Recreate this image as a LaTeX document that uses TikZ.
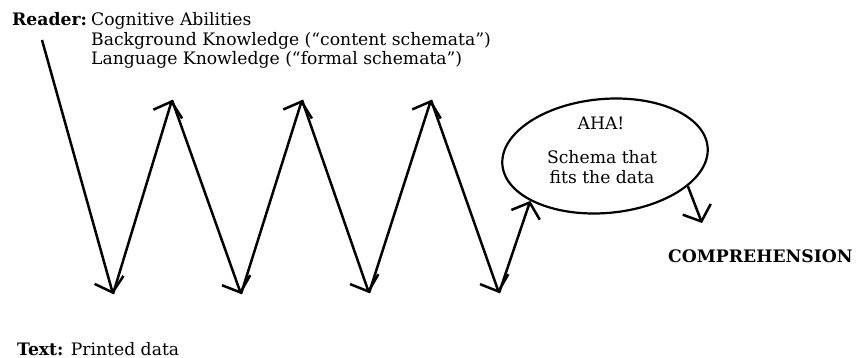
\documentclass[tikz,border=0pt]{standalone}
\usepackage{fontspec}
\setmainfont{DejaVu Serif}
\usetikzlibrary{arrows.meta,shapes.geometric}
\begin{document}
\begin{tikzpicture}[x=1pt,y=-1pt,
  txt/.style={font=\fontsize{17.2}{20}\selectfont},
  link/.style={line width=2.5pt, -{Straight Barb[length=13pt,width=30pt]}},
  lbl/.style={txt, inner sep=0pt, anchor=base west},
  ctr/.style={txt, inner sep=0pt, anchor=base},
  bubble/.style={ellipse, draw, line width=2.2pt, minimum width=206pt, minimum height=114pt, inner sep=0pt}
]
\useasboundingbox (0,0) rectangle (858,358);

% labels of the reader
\node[lbl] (reader) at (12,26) {\bfseries Reader:};
\node[lbl] (cog) at (91,26) {Cognitive Abilities};
\node[lbl] (bg) at (91,45.5) {Background Knowledge (“content schemata”)};
\node[lbl] (lang) at (91,65) {Language Knowledge (“formal schemata”)};

% label of the text
\node[lbl] (text) at (17,355) {\textbf{Text:} Printed data};

% the schema bubble
\node[bubble, rotate=5] (aha) at (605,156) {};
\node[ctr] (ahatxt) at (601,130) {AHA!};
\node[ctr] (schema1) at (602,164) {Schema that};
\node[ctr] (schema2) at (602,183) {fits the data};

\node[lbl] (compr) at (668,262) {\bfseries COMPREHENSION};

% turning points of the zigzag
\coordinate (r0) at (42,40);
\coordinate (b1) at (113,294);
\coordinate (t1) at (172,100);
\coordinate (b2) at (241,294);
\coordinate (t2) at (302,100);
\coordinate (b3) at (369,293);
\coordinate (t3) at (431,100);
\coordinate (b4) at (499,293);
\coordinate (out) at (702,223);

\draw[link] (r0) -- (b1);
\draw[link] (b1) -- (t1);
\draw[link] (t1) -- (b2);
\draw[link] (b2) -- (t2);
\draw[link] (t2) -- (b3);
\draw[link] (b3) -- (t3);
\draw[link] (t3) -- (b4);
\draw[link] (b4) -- (aha.206);
\draw[link] (aha.-25) -- (out);
\end{tikzpicture}
\end{document}
